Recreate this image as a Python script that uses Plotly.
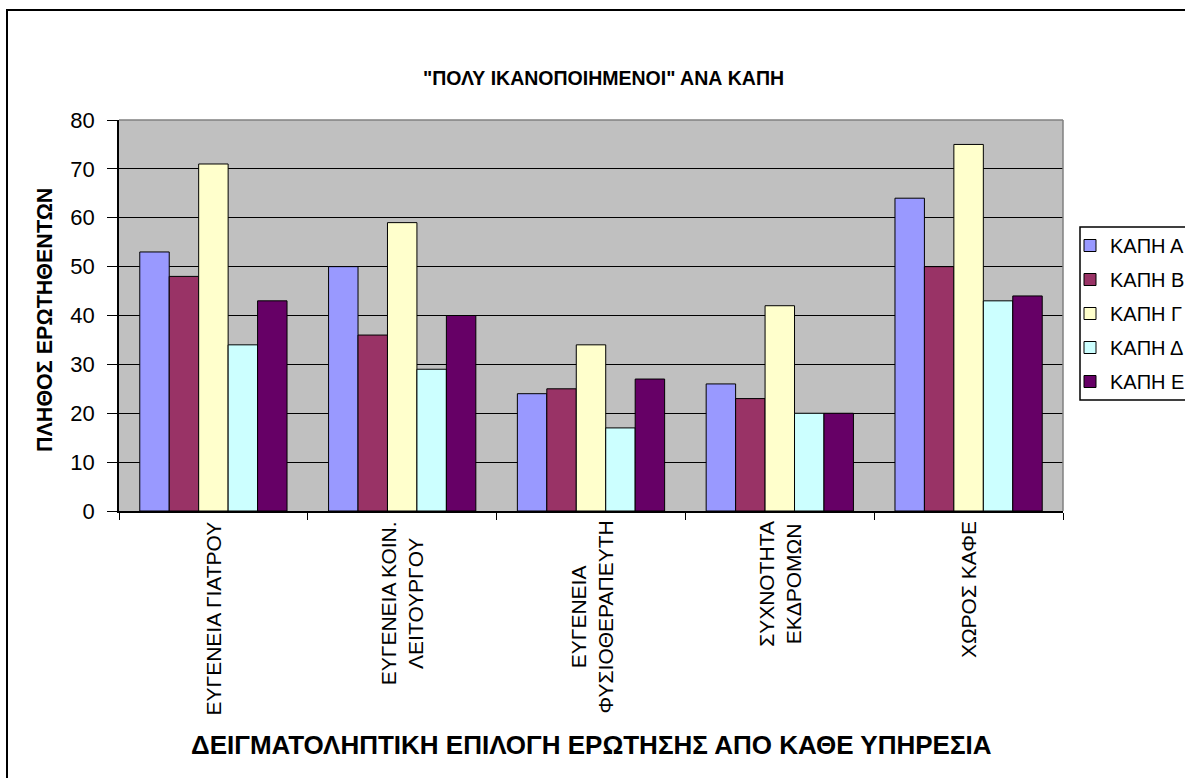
import plotly.graph_objects as go

# ---- data ----
categories = ["ΕΥΓΕΝΕΙΑ ΓΙΑΤΡΟΥ", "ΕΥΓΕΝΕΙΑ ΚΟΙΝ. ΛΕΙΤΟΥΡΓΟΥ", "ΕΥΓΕΝΕΙΑ ΦΥΣΙΟΘΕΡΑΠΕΥΤΗ",
              "ΣΥΧΝΟΤΗΤΑ ΕΚΔΡΟΜΩΝ", "ΧΩΡΟΣ ΚΑΦΕ"]
category_labels = ["ΕΥΓΕΝΕΙΑ ΓΙΑΤΡΟΥ", "ΕΥΓΕΝΕΙΑ ΚΟΙΝ.<br>ΛΕΙΤΟΥΡΓΟΥ", "ΕΥΓΕΝΕΙΑ<br>ΦΥΣΙΟΘΕΡΑΠΕΥΤΗ",
                   "ΣΥΧΝΟΤΗΤΑ<br>ΕΚΔΡΟΜΩΝ", "ΧΩΡΟΣ ΚΑΦΕ"]
series_names = ["ΚΑΠΗ Α", "ΚΑΠΗ Β", "ΚΑΠΗ Γ", "ΚΑΠΗ Δ", "ΚΑΠΗ Ε"]
kapi_a = [53, 50, 24, 26, 64]
kapi_b = [48, 36, 25, 23, 50]
kapi_g = [71, 59, 34, 42, 75]
kapi_d = [34, 29, 17, 20, 43]
kapi_e = [43, 40, 27, 20, 44]
y_ticks = [0, 10, 20, 30, 40, 50, 60, 70, 80]

title_text = '"ΠΟΛΥ ΙΚΑΝΟΠΟΙΗΜΕΝΟΙ" ΑΝΑ ΚΑΠΗ'
x_title = "ΔΕΙΓΜΑΤΟΛΗΠΤΙΚΗ ΕΠΙΛΟΓΗ ΕΡΩΤΗΣΗΣ ΑΠΟ ΚΑΘΕ ΥΠΗΡΕΣΙΑ"
y_title = "ΠΛΗΘΟΣ ΕΡΩΤΗΘΕΝΤΩΝ"

colors = ["#9999FF", "#993366", "#FFFFCC", "#CCFFFF", "#660066"]
FONT = "Liberation Sans, Arial, sans-serif"

# ---- layout geometry (pixels) ----
W, H = 1185, 778
L, R, T, B = 119, 1063, 120, 511
pw, ph = R - L, B - T

def px(xp):
    return (xp - L) / pw

def py(yp):
    return (B - yp) / ph

fig = go.Figure()
for i, (name, vals) in enumerate(zip(series_names, [kapi_a, kapi_b, kapi_g, kapi_d, kapi_e])):
    fig.add_trace(go.Bar(
        x=categories, y=vals, name=name, legendgroup=f"g{i}",
        marker=dict(color=colors[i], line=dict(color="black", width=1)),
    ))

annotations = []
for cat, lab in zip(categories, category_labels):
    annotations.append(dict(
        x=cat, xref="x", y=py(519), yref="paper", text=lab, showarrow=False,
        textangle=-90, xanchor="center", yanchor="top", align="center",
        font=dict(family=FONT, size=21, color="black"),
    ))
annotations.append(dict(
    x=px(603), y=py(78), xref="paper", yref="paper", text=title_text, showarrow=False,
    xanchor="center", yanchor="middle",
    font=dict(family=FONT, size=19.5, color="black", weight="bold"),
))
annotations.append(dict(
    x=px(591), y=py(745), xref="paper", yref="paper", text=x_title, showarrow=False,
    xanchor="center", yanchor="middle",
    font=dict(family=FONT, size=26, color="black", weight="bold"),
))
annotations.append(dict(
    x=px(45), y=py(320), xref="paper", yref="paper", text=y_title, showarrow=False,
    textangle=-90, xanchor="center", yanchor="middle",
    font=dict(family=FONT, size=21.5, color="black", weight="bold"),
))

shapes = [
    # outer chart border
    dict(type="rect", xref="paper", yref="paper", x0=px(7), x1=px(1200), y0=py(800), y1=py(10),
         line=dict(color="black", width=2), layer="above"),
    # plot area gray border (top, right)
    dict(type="line", xref="paper", yref="paper", x0=0, x1=1, y0=1, y1=1,
         line=dict(color="#808080", width=1.5), layer="above"),
    dict(type="line", xref="paper", yref="paper", x0=1, x1=1, y0=0, y1=1,
         line=dict(color="#808080", width=1.5), layer="above"),
    # legend box
    dict(type="rect", xref="paper", yref="paper", x0=px(1080), x1=px(1200), y0=py(400), y1=py(227),
         line=dict(color="black", width=1.5), fillcolor="rgba(0,0,0,0)", layer="above"),
]

fig.update_layout(
    width=W, height=H,
    margin=dict(l=L, r=W - R, t=T, b=H - B, autoexpand=False),
    paper_bgcolor="white", plot_bgcolor="#C0C0C0",
    barmode="group", bargap=0.22, bargroupgap=0,
    showlegend=True,
    legend=dict(x=px(1070), y=py(226), xanchor="left", yanchor="top",
                bgcolor="rgba(0,0,0,0)", borderwidth=0, tracegroupgap=5,
                itemwidth=30,
                font=dict(family=FONT, size=20, color="black")),
    annotations=annotations, shapes=shapes,
    font=dict(family=FONT, color="black"),
)
fig.update_xaxes(
    type="category", showticklabels=False, ticks="outside", tickson="boundaries",
    ticklen=7, tickcolor="black", showline=True, linecolor="black", linewidth=1.5,
    showgrid=False, zeroline=False,
)
fig.update_yaxes(
    range=[0, 80], tickvals=y_ticks, ticks="outside", ticklen=10, tickcolor="black",
    showline=True, linecolor="black", linewidth=1.5,
    showgrid=True, gridcolor="black", gridwidth=1, zeroline=False,
    tickfont=dict(family=FONT, size=22, color="black"), ticklabelstandoff=8,
)

fig.write_html("out.html", config={"displayModeBar": False},
               post_script="document.body.style.margin='0';document.body.style.overflow='hidden';")
